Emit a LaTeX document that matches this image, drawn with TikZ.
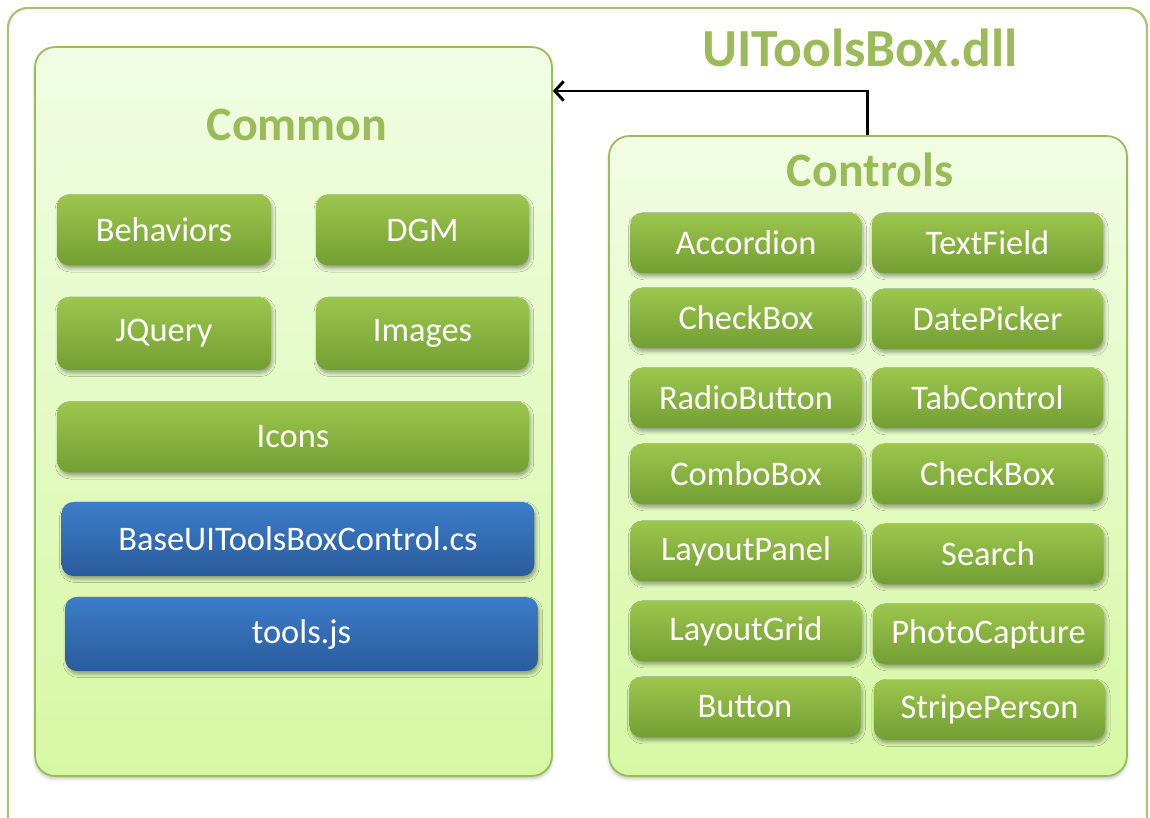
\documentclass[tikz,border=0pt]{standalone}
\usepackage{fontspec}
\setmainfont{Carlito}
\usepackage{xcolor}
\usepackage{tikz}
\usetikzlibrary{arrows.meta,positioning,shadows,shadows.blur}

\definecolor{dllgreen}{HTML}{9BBB59}
\definecolor{btntop}{HTML}{9DC64D}
\definecolor{btnbot}{HTML}{739E33}
\definecolor{bluetop}{HTML}{3C7DCA}
\definecolor{bluebot}{HTML}{2B5B9B}
\definecolor{paneltop}{HTML}{F1FDE4}
\definecolor{panelbot}{HTML}{D6F8A4}

\tikzset{
  panel/.style={draw=dllgreen, line width=1pt, rounded corners=0.4cm,
    top color=paneltop, bottom color=panelbot,
    blur shadow={shadow xshift=0pt, shadow yshift=-1.5pt, shadow opacity=25, shadow blur steps=4}},
  grnbtn/.style={rounded corners=0.24cm, top color=btntop, bottom color=btnbot,
    text=white, font=\fontsize{19.6}{22}\selectfont, inner sep=0pt,
    blur shadow={shadow xshift=0.8pt, shadow yshift=-1.8pt, shadow opacity=35, shadow blur steps=4}},
  blubtn/.style={grnbtn, top color=bluetop, bottom color=bluebot},
  ctrlbtn/.style={grnbtn, minimum width=4.63cm, minimum height=1.21cm},
  boxtitle/.style={text=dllgreen, font=\fontsize{27.3}{30}\selectfont\bfseries},
}

\begin{document}
\begin{tikzpicture}[x=0.02cm,y=-0.02cm]
  \useasboundingbox (0,0) rectangle (1150,818);
  \clip (0,0) rectangle (1150,818);

  % outer frame of the dll
  \draw[draw=dllgreen!85, line width=1.3pt, rounded corners=0.4cm] (8,8) rectangle (1147,845);
  \node[text=dllgreen, font=\fontsize{30.5}{34}\selectfont\bfseries] (dll) at (860,48) {UIToolsBox.dll};

  % the two panels
  \node[panel, minimum width=10.34cm, minimum height=14.58cm] (common) at (293.5,411.5) {};
  \node[panel, minimum width=10.36cm, minimum height=12.8cm] (controls) at (868,456) {};
  \node[boxtitle] (commontitle) at (297,125) {Common};
  \node[boxtitle] (controlstitle) at (870,170) {Controls};

  % Controls depends on Common
  \coordinate (bend) at (867,91);
  \draw[line width=1.7pt, -{Straight Barb[length=5pt,width=11pt]}]
    (bend |- controls.north) -- (bend) -- (bend -| common.east);

  % Common contents
  \node[grnbtn, minimum width=4.28cm, minimum height=1.42cm] (behaviors) at (164,230) {Behaviors};
  \node[grnbtn, minimum width=4.26cm, minimum height=1.42cm] (dgm) at (422.5,230) {DGM};
  \node[grnbtn, minimum width=4.28cm, minimum height=1.46cm] (jquery) at (164,333.5) {JQuery};
  \node[grnbtn, minimum width=4.26cm, minimum height=1.46cm] (images) at (422.5,333.5) {Images};
  \node[grnbtn, minimum width=9.44cm, minimum height=1.42cm] (icons) at (293,437) {Icons};
  \node[blubtn, minimum width=9.46cm, minimum height=1.48cm] (baseui) at (298,539) {BaseUIToolsBoxControl.cs};
  \node[blubtn, minimum width=9.46cm, minimum height=1.48cm] (toolsjs) at (301.5,634) {tools.js};

  % Controls contents
  \node[ctrlbtn] (accordion)   at (746,243)   {Accordion};
  \node[ctrlbtn] (textfield)   at (987.5,243) {TextField};
  \node[ctrlbtn] (checkboxa)   at (746,318)   {CheckBox};
  \node[ctrlbtn] (datepicker)  at (987.5,319) {DatePicker};
  \node[ctrlbtn] (radiobutton) at (746,398)   {RadioButton};
  \node[ctrlbtn] (tabcontrol)  at (987.5,398) {TabControl};
  \node[ctrlbtn] (combobox)    at (746,474)   {ComboBox};
  \node[ctrlbtn] (checkboxb)   at (987.5,474) {CheckBox};
  \node[ctrlbtn] (layoutpanel) at (746,551)   {LayoutPanel};
  \node[ctrlbtn] (search)      at (988,554)   {Search};
  \node[ctrlbtn] (layoutgrid)  at (746,631)   {LayoutGrid};
  \node[ctrlbtn] (photocap)    at (988.5,634) {PhotoCapture};
  \node[ctrlbtn] (button)      at (745,707)   {Button};
  \node[ctrlbtn] (stripe)      at (989.5,709.5) {StripePerson};
\end{tikzpicture}
\end{document}
